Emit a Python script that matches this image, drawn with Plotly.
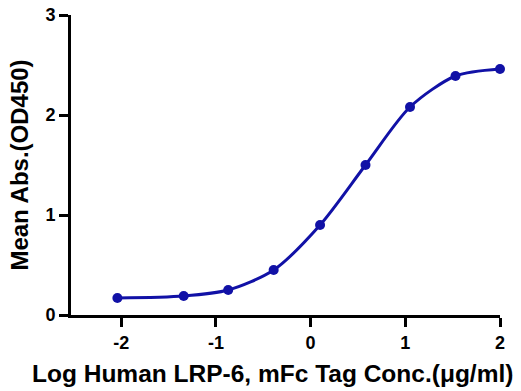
import plotly.graph_objects as go

log_conc = [-2.04, -1.34, -0.87, -0.39, 0.10, 0.58, 1.05, 1.53, 2.00]
mean_abs = [0.17, 0.19, 0.25, 0.45, 0.90, 1.50, 2.08, 2.39, 2.46]
x_ticks = [-2, -1, 0, 1, 2]
x_tick_labels = ["-2", "-1", "0", "1", "2"]
y_ticks = [0, 1, 2, 3]
y_tick_labels = ["0", "1", "2", "3"]
x_title = "Log Human LRP-6, mFc Tag Conc.(μg/ml)"
y_title = "Mean Abs.(OD450)"

color = "#1111a6"
fnt = "Liberation Sans, Arial, sans-serif"

fig = go.Figure()
fig.add_trace(go.Scatter(
    x=log_conc, y=mean_abs, mode="lines+markers",
    line=dict(color=color, width=3, shape="spline", smoothing=0.8),
    marker=dict(color=color, size=10),
    cliponaxis=False, showlegend=False))

axis_common = dict(
    showline=True, linecolor="black", linewidth=3,
    ticks="outside", ticklen=9, tickwidth=3, tickcolor="black",
    showgrid=False, zeroline=False, automargin=False,
    ticklabeloverflow="allow",
    tickfont=dict(family=fnt, size=18, color="black", weight="bold"),
)
fig.update_xaxes(range=[-2.53, 2.0], tickvals=x_ticks, ticktext=x_tick_labels,
                 **axis_common)
fig.update_yaxes(range=[0, 3], tickvals=y_ticks, ticktext=y_tick_labels,
                 title=dict(text=y_title,
                            font=dict(family=fnt, size=24, color="black", weight="bold"),
                            standoff=10),
                 **axis_common)
fig.add_annotation(text=x_title, xref="paper", yref="paper",
                   x=0.47, y=-0.195, xanchor="center", yanchor="middle",
                   showarrow=False,
                   font=dict(family=fnt, size=24.5, color="black", weight="bold"))
fig.update_layout(width=521, height=391,
                  margin=dict(l=71, r=21, t=15, b=76),
                  plot_bgcolor="white", paper_bgcolor="white")
fig.write_html("out.html", config={"displayModeBar": False},
               post_script="document.body.style.margin='0';")
